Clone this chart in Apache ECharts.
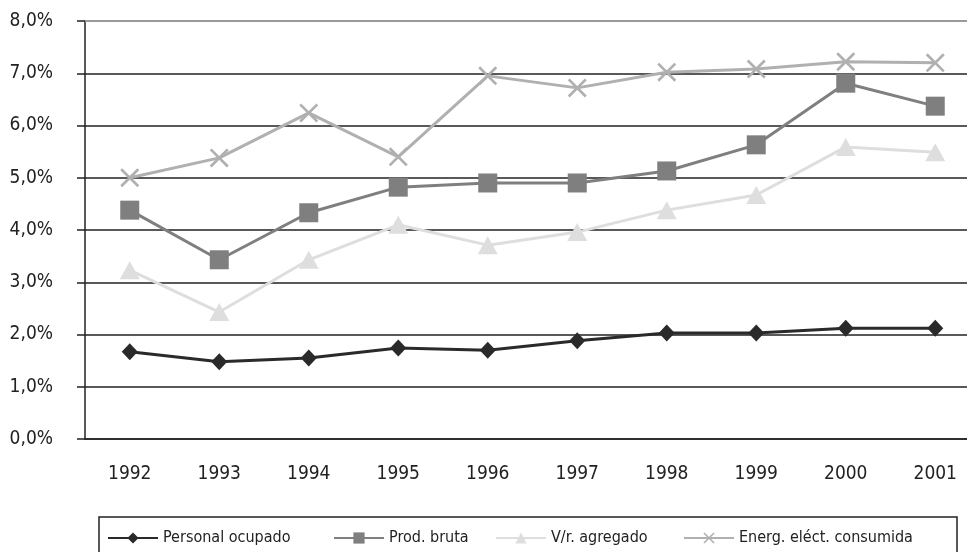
<!DOCTYPE html>
<html>
<head>
<meta charset="utf-8">
<script src="https://cdn.jsdelivr.net/npm/echarts@6/dist/echarts.min.js"></script>
<style>
  html, body { margin: 0; padding: 0; background: #fff; }
  #chart { width: 967px; height: 552px; }
</style>
</head>
<body>
<div id="chart"></div>
<script>
var years = ['1992', '1993', '1994', '1995', '1996', '1997', '1998', '1999', '2000', '2001'];
var names = ['Personal ocupado', 'Prod. bruta', 'V/r. agregado', 'Energ. eléct. consumida'];
var personal = [1.67, 1.48, 1.55, 1.74, 1.70, 1.88, 2.03, 2.03, 2.12, 2.12];
var prodBruta = [4.38, 3.43, 4.33, 4.82, 4.90, 4.90, 5.13, 5.63, 6.81, 6.37];
var valorAgregado = [3.23, 2.43, 3.43, 4.10, 3.71, 3.96, 4.38, 4.67, 5.59, 5.49];
var energia = [5.00, 5.38, 6.24, 5.40, 6.95, 6.72, 7.02, 7.08, 7.22, 7.20];

var fnt = "'Liberation Sans Narrow', 'DejaVu Sans Condensed', 'Liberation Sans', sans-serif";
// X relleno para la serie de energía
var cruz = 'path://M0,1L1,0L10,9L9,10Z M9,0L10,1L1,10L0,9Z';
var legendLeft = [107, 333, 495, 683];

function serie(name, data, color, symbol, size) {
  return {
    name: name,
    type: 'line',
    data: data,
    symbol: symbol,
    symbolSize: size,
    showAllSymbol: true,
    lineStyle: { color: color, width: 3 },
    itemStyle: { color: color },
    emphasis: { disabled: true }
  };
}

var series = [
  serie(names[0], personal, '#2a2a2a', 'diamond', [16, 17]),
  serie(names[1], prodBruta, '#7f7f80', 'rect', 19),
  serie(names[2], valorAgregado, '#dedede', 'triangle', [20, 18]),
  serie(names[3], energia, '#b0b0b0', cruz, 19)
];
// línea superior gris en 8,0%
series[0].markLine = {
  silent: true,
  symbol: 'none',
  label: { show: false },
  lineStyle: { color: '#9a9a9a', width: 2, type: 'solid' },
  data: [{ yAxis: 8 }]
};
series[0].z = 5;

// una leyenda por serie para fijar su posición
var legends = names.map(function (n, i) {
  return {
    data: [n],
    left: legendLeft[i],
    top: 530,
    padding: 0,
    itemWidth: 50,
    itemHeight: 14,
    itemGap: 6,
    selectedMode: false,
    textStyle: { fontFamily: fnt, fontSize: 16, color: '#222' }
  };
});

var option = {
  backgroundColor: '#fff',
  animation: false,
  grid: { left: 85, top: 21, bottom: 113, width: 895, containLabel: false, outerBoundsMode: 'none' },
  legend: legends,
  graphic: [{
    type: 'rect',
    shape: { x: 99, y: 517, width: 858, height: 60 },
    style: { fill: 'none', stroke: '#222', lineWidth: 1.5 },
    silent: true
  }],
  xAxis: {
    type: 'category',
    data: years,
    boundaryGap: true,
    axisLine: { lineStyle: { color: '#222', width: 1.5 } },
    axisTick: { length: 7, lineStyle: { color: '#222', width: 1.5 } },
    axisLabel: { fontFamily: fnt, fontSize: 19, color: '#222', margin: 26 },
    splitLine: { show: false }
  },
  yAxis: {
    type: 'value',
    min: 0,
    max: 8,
    interval: 1,
    axisLine: { show: true, lineStyle: { color: '#222', width: 1.5 } },
    axisTick: { show: true, length: 8, lineStyle: { color: '#222', width: 1.5 } },
    axisLabel: {
      fontFamily: fnt, fontSize: 19, color: '#222', margin: 32,
      formatter: function (v) { return v.toFixed(1).replace('.', ',') + '%'; }
    },
    splitLine: { show: true, showMaxLine: false, lineStyle: { color: '#222', width: 1.5 } }
  },
  series: series
};

var chart = echarts.init(document.getElementById('chart'));
chart.setOption(option);
</script>
</body>
</html>
